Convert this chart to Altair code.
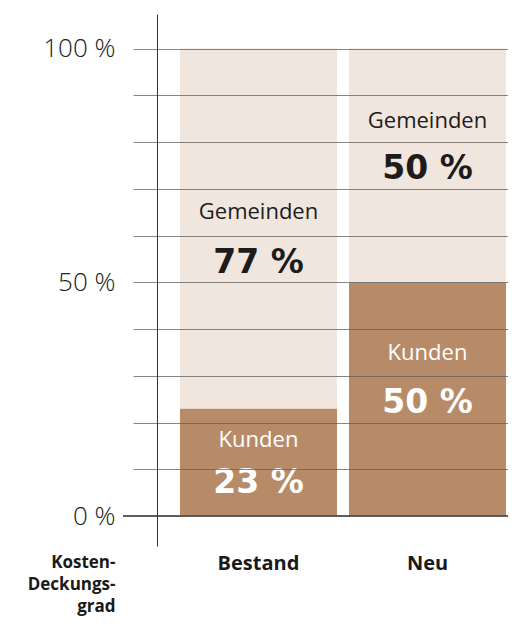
import altair as alt
import pandas as pd

# ---- data ----
categories = ["Bestand", "Neu"]
kunden = [23, 50]          # Kunden share (%)
gemeinden = [77, 50]       # Gemeinden share (%)
segments = ["Kunden", "Gemeinden"]
y_ticks = list(range(0, 101, 10))
axis_title = ["Kosten-", "Deckungs-", "grad"]

# label anchor values (in % units) for name and percentage text per segment
name_anchor = {("Bestand", "Kunden"): 14.8, ("Bestand", "Gemeinden"): 63.5,
               ("Neu", "Kunden"): 33.4, ("Neu", "Gemeinden"): 83.1}
pct_anchor = {("Bestand", "Kunden"): 4.9, ("Bestand", "Gemeinden"): 52.0,
              ("Neu", "Kunden"): 22.0, ("Neu", "Gemeinden"): 72.1}

rows = []
for i, c in enumerate(categories):
    for j, (s, v) in enumerate(zip(segments, [kunden[i], gemeinden[i]])):
        rows.append({"cat": c, "seg": s, "value": v, "ord": j,
                     "name_y": name_anchor[(c, s)], "pct_y": pct_anchor[(c, s)],
                     "pct": f"{v} %"})
df = pd.DataFrame(rows)

FONT = "Open Sans"
W, H = 375, 532

yscale = alt.Scale(domain=[-6.417, 107.38], nice=False, zero=False)
xscale = alt.Scale(domain=categories, paddingInner=0.071, paddingOuter=0.14497, align=0.959)

base = alt.Chart(df)

bars = base.mark_bar(stroke=None).encode(
    x=alt.X("cat:N", scale=xscale, sort=categories,
            axis=alt.Axis(title=axis_title, orient="bottom", domain=False, ticks=False,
                          labelFont=FONT, labelFontSize=20, labelFontWeight="bold",
                          labelColor="#1a1a1a", labelBaseline="alphabetic", labelPadding=23,
                          labelAngle=0,
                          titleFont=FONT, titleFontSize=17, titleFontWeight="bold",
                          titleColor="#1a1a1a", titleAlign="right", titleBaseline="alphabetic",
                          titleAnchor="start", titleX=-18, titleY=21, titleLineHeight=22)),
    y=alt.Y("value:Q", stack="zero", scale=yscale,
            axis=alt.Axis(title=None, values=y_ticks, grid=True, gridColor="#5e5e5e",
                          gridOpacity=0.75, gridWidth=1, ticks=False,
                          domain=True, domainColor="#333333", domainWidth=1,
                          offset=-24, labelPadding=42,
                          labelExpr="datum.value % 50 == 0 ? datum.value + ' %' : ''",
                          labelFont=FONT, labelFontSize=26, labelFontWeight=300,
                          labelColor="#222222", zindex=1)),
    color=alt.Color("seg:N", scale=alt.Scale(domain=segments, range=["#b88b68", "#f0e6dd"]),
                    legend=None),
    order=alt.Order("ord:Q"),
)

zero_line = base.mark_rule(color="#555555", strokeWidth=1).encode(
    y=alt.datum(0), x=alt.value(-10), x2=alt.value(W)
)

text_color = alt.condition(alt.datum.seg == "Kunden", alt.value("white"), alt.value("#1c1c1c"))

names = base.mark_text(font=FONT, fontSize=22, baseline="alphabetic", align="center").encode(
    x=alt.X("cat:N", scale=xscale, sort=categories),
    y=alt.Y("name_y:Q", scale=yscale),
    text="seg:N",
    color=text_color,
)

pcts = base.mark_text(font="DejaVu Sans", fontSize=33, fontWeight="bold",
                      baseline="alphabetic", align="center").encode(
    x=alt.X("cat:N", scale=xscale, sort=categories),
    y=alt.Y("pct_y:Q", scale=yscale),
    text="pct:N",
    color=text_color,
)

chart = alt.layer(bars, zero_line, names, pcts).properties(
    width=W, height=H,
    autosize=alt.AutoSizeParams(type="none"),
    padding={"left": 125, "top": 6, "right": 0, "bottom": 72},
).configure(background="white").configure_view(stroke=None, strokeWidth=0)

chart.save("out.html", embed_options={"renderer": "svg", "actions": False})
